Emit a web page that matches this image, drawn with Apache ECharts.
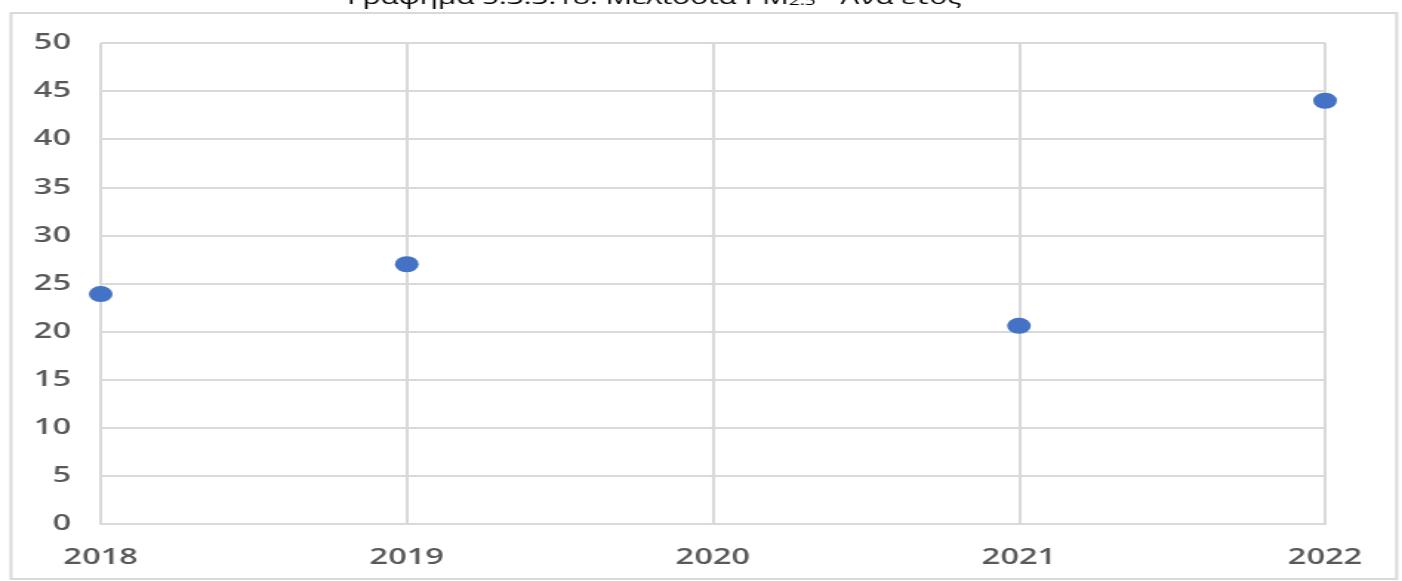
<!DOCTYPE html>
<html>
<head>
<meta charset="utf-8">
<script src="https://cdn.jsdelivr.net/npm/echarts@6/dist/echarts.min.js"></script>
<style>
  html, body { margin: 0; padding: 0; background: #ffffff; overflow: hidden; }
  #wrap { width: 1402px; height: 581px; overflow: hidden; position: relative; }
  /* the chart is laid out narrower and widened horizontally */
  #chart { width: 947px; height: 581px; transform: scaleX(1.4805); transform-origin: 0 0; }
</style>
</head>
<body>
<div id="wrap"><div id="chart"></div></div>
<script>
// Maximum PM2.5 per year, Melissia station
const years = ['2018', '2019', '2020', '2021', '2022'];
const pm25Max = [23.9, 27.0, null, 20.6, 44.0];
const yTicks = { min: 0, max: 50, interval: 5 };
const titleMain = 'Γράφημα 5.3.3.18: Μελίσσια PM';
const titleSub = '2.5';
const titleTail = ' - Ανά έτος';

const chart = echarts.init(document.getElementById('chart'));
const gray = '#d9d9d9';
const labelColor = '#595959';
const font = '"Open Sans", "Noto Sans", sans-serif';

chart.setOption({
  backgroundColor: '#ffffff',
  animation: false,
  grid: { left: 68, right: 52, top: 43, bottom: 57, containLabel: false },
  graphic: [
    {
      type: 'rect',
      shape: { x: 7.4, y: 13, width: 936, height: 566 },
      style: { fill: 'none', stroke: gray, lineWidth: 2 },
      silent: true
    },
    {
      type: 'text',
      x: 442, y: -2,
      style: {
        text: '{a|' + titleMain + '}{s|' + titleSub + '}{a|' + titleTail + '}',
        align: 'center',
        verticalAlign: 'middle',
        rich: {
          a: { fontFamily: font, fontSize: 20, fontWeight: 500, fill: '#000000' },
          s: { fontFamily: font, fontSize: 13, fontWeight: 500, fill: '#000000', verticalAlign: 'bottom', padding: [6, 0, 0, 0] }
        }
      },
      silent: true
    }
  ],
  xAxis: {
    type: 'category',
    data: years,
    boundaryGap: false,
    axisLine: { show: true, lineStyle: { color: gray, width: 2 } },
    axisTick: { show: false },
    splitLine: { show: true, lineStyle: { color: gray, width: 2 } },
    axisLabel: { color: labelColor, fontFamily: font, fontSize: 22, fontWeight: 600, margin: 23 }
  },
  yAxis: {
    type: 'value',
    min: yTicks.min,
    max: yTicks.max,
    interval: yTicks.interval,
    axisLine: { show: false },
    axisTick: { show: false },
    splitLine: { show: true, lineStyle: { color: gray, width: 2 } },
    axisLabel: { color: labelColor, fontFamily: font, fontSize: 22, fontWeight: 600, margin: 20 }
  },
  series: [{
    type: 'scatter',
    data: pm25Max,
    symbol: 'circle',
    symbolSize: 16,
    itemStyle: { color: '#4472C4', opacity: 1 }
  }]
});
</script>
</body>
</html>
